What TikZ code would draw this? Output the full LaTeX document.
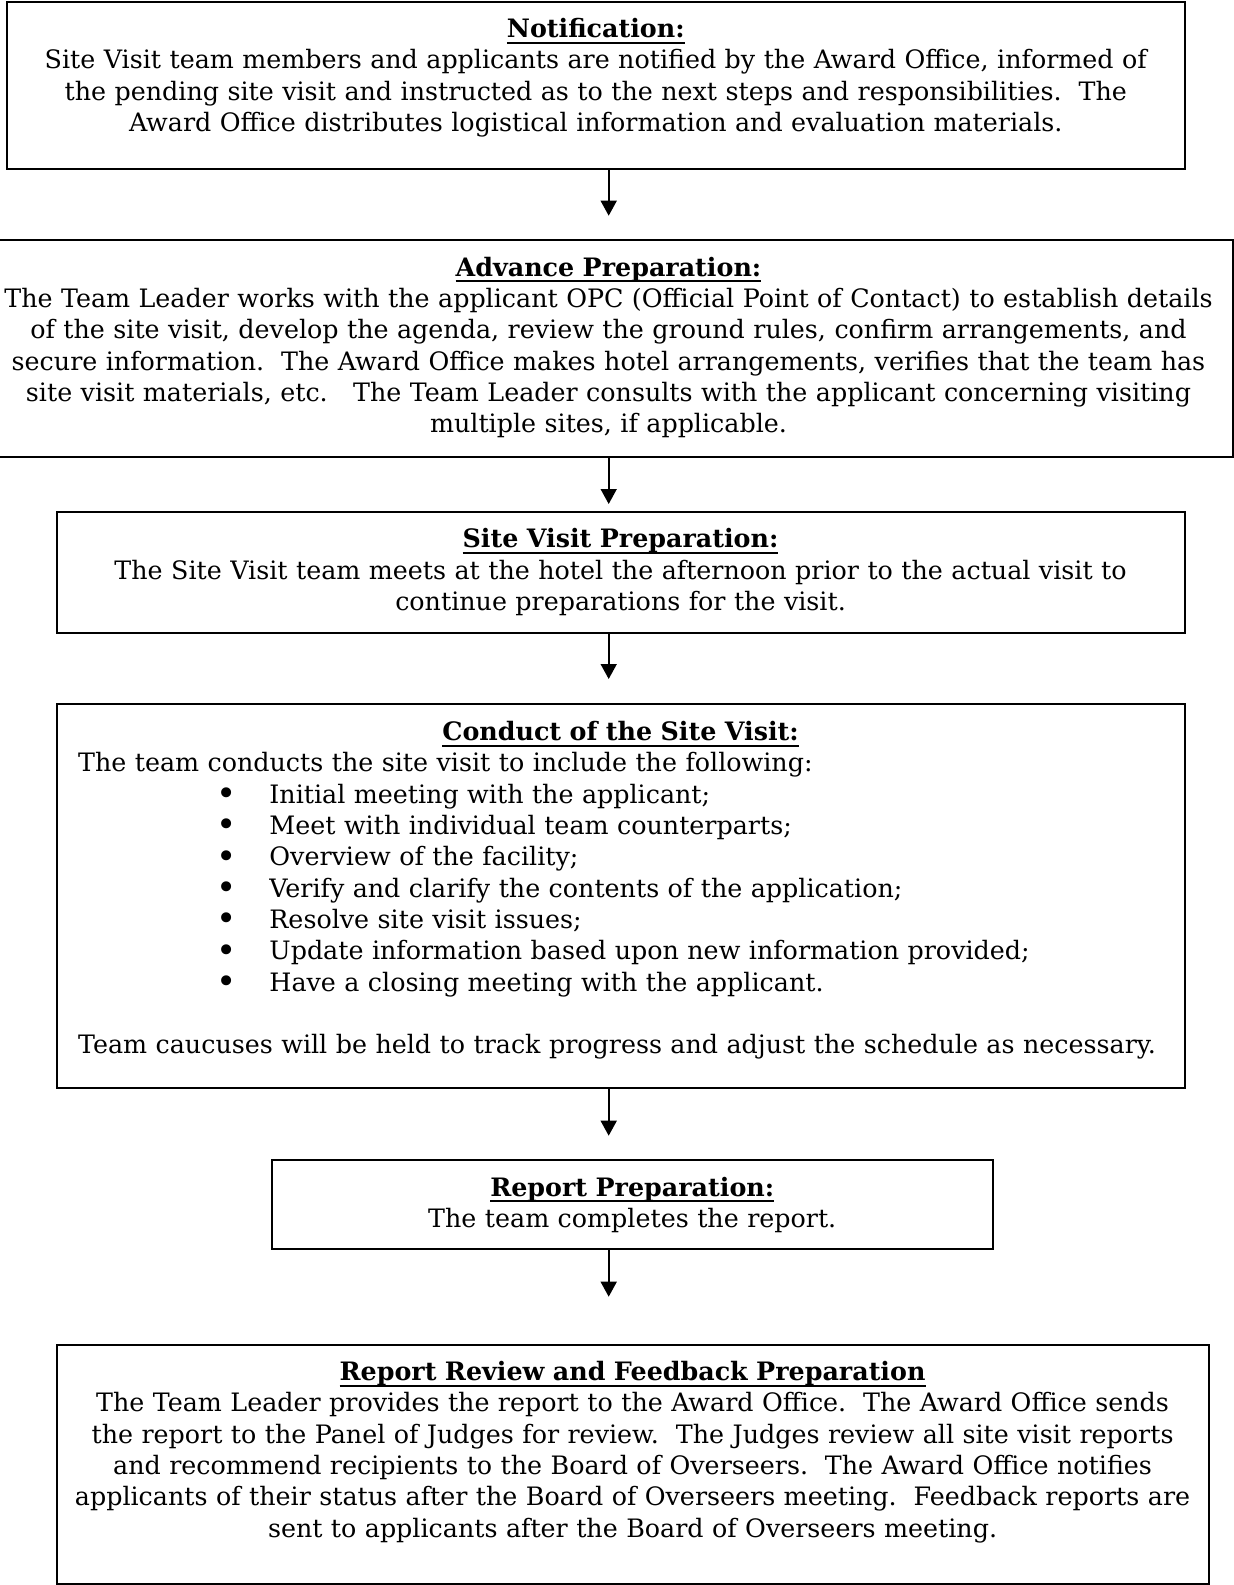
\documentclass[tikz,border=0pt]{standalone}
\usepackage{fontspec}
\usepackage{graphicx}
\setmainfont{DejaVu Serif}
\usetikzlibrary{arrows.meta}

% underlined bold heading, rule at a fixed depth
\newcommand{\steptitle}[1]{\setbox0\hbox{\bfseries #1}\rlap{\rule[-3.1pt]{\wd0}{0.9pt}}\box0}
\newcommand{\visititem}[1]{\hspace*{74.35pt}\makebox[0pt]{\raisebox{-1.2pt}{\scalebox{1.35}{\textbullet}}}\hspace*{21.3pt}#1}

\tikzset{
  stepbox/.style={draw, line width=1pt, inner sep=0pt, outer sep=0pt, anchor=north,
    align=center, text height=18pt,
    font=\fontsize{12.68pt}{15.67pt}\selectfont\frenchspacing},
  flow/.style={->, line width=0.8pt}
}

\begin{document}
\begin{tikzpicture}[x=0.5pt,y=-0.5pt,>={Triangle[width=8pt,length=7.5pt]}]
\useasboundingbox (0,0) rectangle (1233,1585);

\node[stepbox, text width=588.75pt, text depth=65.75pt] (notif) at (595.75,1.5)
  {\steptitle{Notification:}\\
   Site Visit team members and applicants are notified by the Award Office, informed of\\
   the pending site visit and instructed as to the next steps and responsibilities.\ \ The\\
   Award Office distributes logistical information and evaluation materials.};

\node[stepbox, text width=624.5pt, text depth=90.35pt] (advance) at (608.5,240)
  {\steptitle{Advance Preparation:}\\
   The Team Leader works with the applicant OPC (Official Point of Contact) to establish details\\
   of the site visit, develop the agenda, review the ground rules, confirm arrangements, and\\
   secure information.\ \ The Award Office makes hotel arrangements, verifies that the team has\\
   site visit materials, etc.\ \ \ The Team Leader consults with the applicant concerning visiting\\
   multiple sites, if applicable.};

\node[stepbox, text width=563.95pt, text depth=42.5pt] (svprep) at (620.55,511.7)
  {\steptitle{Site Visit Preparation:}\\
   The Site Visit team meets at the hotel the afternoon prior to the actual visit to\\
   continue preparations for the visit.};

\node[stepbox, align=left, inner xsep=10.75pt, text width=542.45pt, text depth=173.8pt] (conduct) at (620.55,704.4)
  {\makebox[\linewidth]{\steptitle{Conduct of the Site Visit:}}\\
   The team conducts the site visit to include the following:\\
   \visititem{Initial meeting with the applicant;}\\
   \visititem{Meet with individual team counterparts;}\\
   \visititem{Overview of the facility;}\\
   \visititem{Verify and clarify the contents of the application;}\\
   \visititem{Resolve site visit issues;}\\
   \visititem{Update information based upon new information provided;}\\
   \visititem{Have a closing meeting with the applicant.}\\[15.67pt]
   Team caucuses will be held to track progress and adjust the schedule as necessary.};

\node[stepbox, text width=360.25pt, text depth=26.5pt] (report) at (632.25,1160)
  {\steptitle{Report Preparation:}\\
   The team completes the report.};

\node[stepbox, text width=575.95pt, text depth=101.5pt] (review) at (632.55,1344.5)
  {\steptitle{Report Review and Feedback Preparation}\\
   The Team Leader provides the report to the Award Office.\ \ The Award Office sends\\
   the report to the Panel of Judges for review.\ \ The Judges review all site visit reports\\
   and recommend recipients to the Board of Overseers.\ \ The Award Office notifies\\
   applicants of their status after the Board of Overseers meeting.\ \ Feedback reports are\\
   sent to applicants after the Board of Overseers meeting.};

% arrow tips stop short of the next box
\coordinate (tip1) at (608.7,215.7);
\coordinate (tip2) at (608.7,504);
\coordinate (tip3) at (608.7,679);
\coordinate (tip4) at (608.7,1135.7);
\coordinate (tip5) at (608.7,1296.7);

\draw[flow] (notif.south -| tip1) -- (tip1);
\draw[flow] (advance.south -| tip2) -- (tip2);
\draw[flow] (svprep.south -| tip3) -- (tip3);
\draw[flow] (conduct.south -| tip4) -- (tip4);
\draw[flow] (report.south -| tip5) -- (tip5);
\end{tikzpicture}
\end{document}
